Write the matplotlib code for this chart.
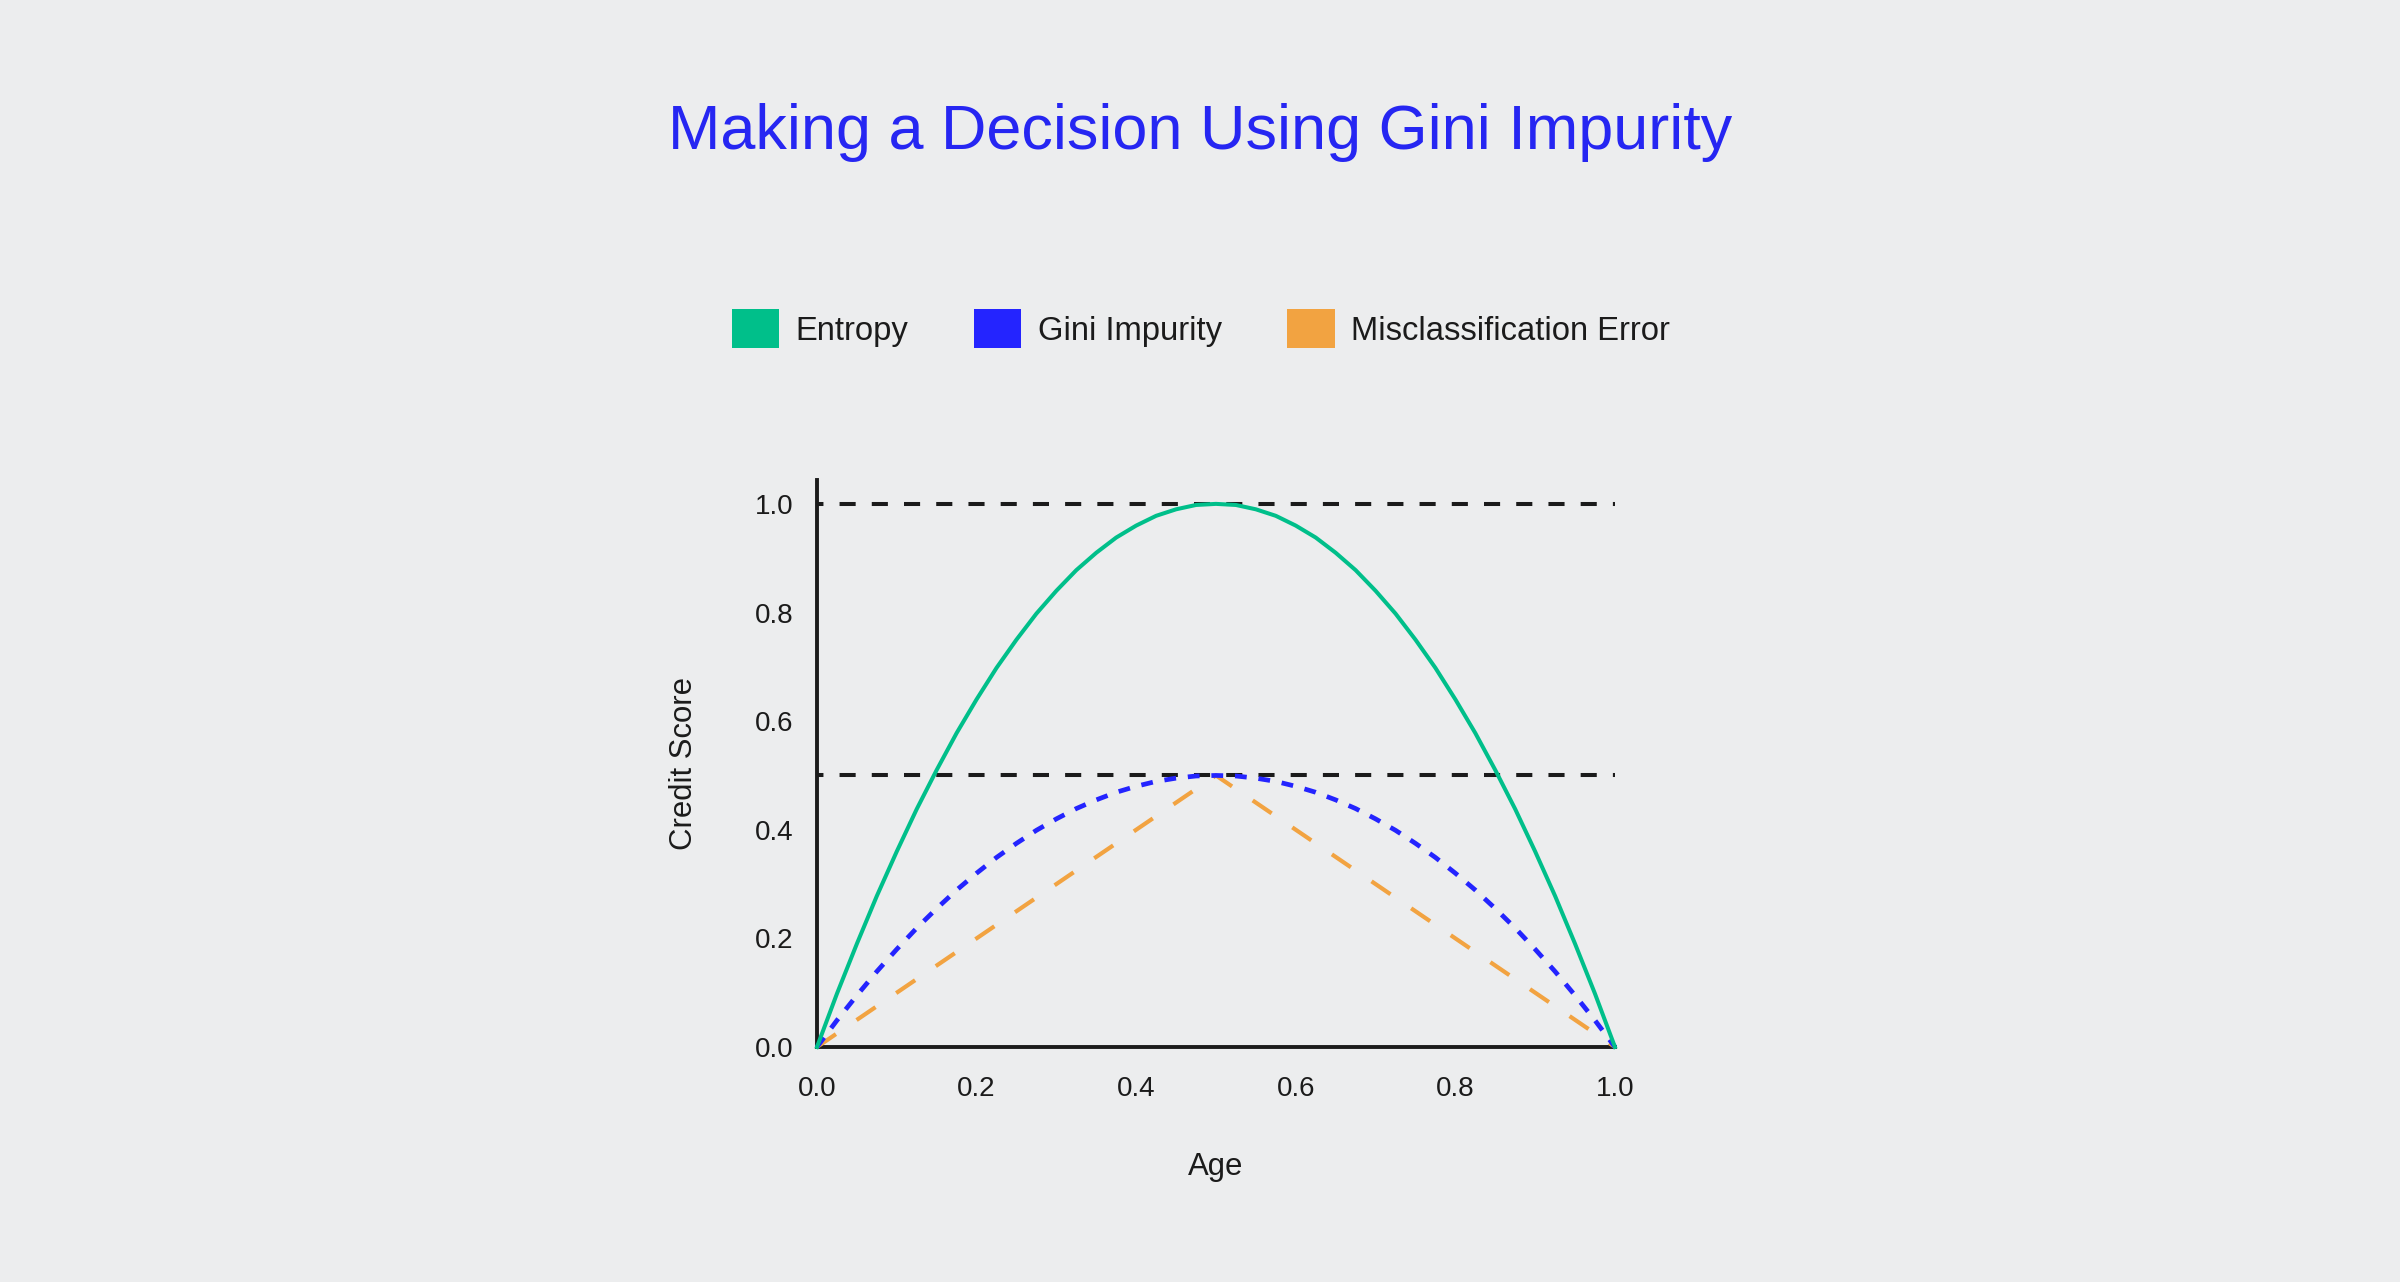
import matplotlib.pyplot as plt
from matplotlib.patches import Patch

BG = '#ECEDEE'
INK = '#1B1B1B'
GREEN = '#00BF8A'
BLUE = '#2424FF'
ORANGE = '#F2A341'
TITLE_BLUE = '#2626F2'

# значения (шаг 0.025)
p = [0.0, 0.025, 0.05, 0.075, 0.1, 0.125, 0.15, 0.175, 0.2, 0.225,
     0.25, 0.275, 0.3, 0.325, 0.35, 0.375, 0.4, 0.425, 0.45, 0.475,
     0.5, 0.525, 0.55, 0.575, 0.6, 0.625, 0.65, 0.675, 0.7, 0.725,
     0.75, 0.775, 0.8, 0.825, 0.85, 0.875, 0.9, 0.925, 0.95, 0.975, 1.0]
entropy = [0.0, 0.098, 0.19, 0.278, 0.36, 0.438, 0.51, 0.578, 0.64, 0.698,
           0.75, 0.798, 0.84, 0.878, 0.91, 0.938, 0.96, 0.978, 0.99, 0.998,
           1.0, 0.998, 0.99, 0.978, 0.96, 0.938, 0.91, 0.878, 0.84, 0.798,
           0.75, 0.698, 0.64, 0.578, 0.51, 0.438, 0.36, 0.278, 0.19, 0.098, 0.0]
gini = [0.0, 0.049, 0.095, 0.139, 0.18, 0.219, 0.255, 0.289, 0.32, 0.349,
        0.375, 0.399, 0.42, 0.439, 0.455, 0.469, 0.48, 0.489, 0.495, 0.499,
        0.5, 0.499, 0.495, 0.489, 0.48, 0.469, 0.455, 0.439, 0.42, 0.399,
        0.375, 0.349, 0.32, 0.289, 0.255, 0.219, 0.18, 0.139, 0.095, 0.049, 0.0]
miscl_p = [0.0, 0.5, 1.0]
miscl = [0.0, 0.5, 0.0]
ref_levels = [1.0, 0.5]
ticks = [0.0, 0.2, 0.4, 0.6, 0.8, 1.0]
labels = ['Entropy', 'Gini Impurity', 'Misclassification Error']

plt.rcParams['font.family'] = ['Liberation Sans', 'DejaVu Sans']

fig = plt.figure(figsize=(12, 6.41), dpi=200, facecolor=BG)
ax = fig.add_axes([0.3404, 0.1833, 0.3325, 0.4423])
ax.set_facecolor(BG)

# пунктирные уровни
for lv in ref_levels:
    ax.plot([0, 1], [lv, lv], color=INK, lw=1.45, ls=(2.4, (4, 4)),
            zorder=1, clip_on=False)

ax.plot(miscl_p, miscl, color=ORANGE, lw=1.5, ls=(0, (5.5, 6)), zorder=3, clip_on=False)
ax.plot(p, gini, color=BLUE, lw=1.7, ls=(0, (2.5, 2.5)), zorder=4, clip_on=False)
ax.plot(p, entropy, color=GREEN, lw=1.45, zorder=5, clip_on=False)

ax.set_xlim(0, 1)
ax.set_ylim(0, 1.044)
ax.set_xticks(ticks)
ax.set_yticks(ticks)
ax.set_xticklabels([f'{t:.1f}' for t in ticks])
ax.set_yticklabels([f'{t:.1f}' for t in ticks])
ax.tick_params(axis='both', length=0, labelsize=10, colors=INK)
ax.tick_params(axis='x', pad=10.5)
ax.tick_params(axis='y', pad=8.6)

for s in ['top', 'right']:
    ax.spines[s].set_visible(False)
for s in ['left', 'bottom']:
    ax.spines[s].set_linewidth(1.4)
    ax.spines[s].set_color(INK)

ax.set_xlabel('Age', fontsize=11.2, color=INK, labelpad=18)
ax.set_ylabel('Credit Score', fontsize=11.2, color=INK, labelpad=20)

fig.text(0.5, 0.884, 'Making a Decision Using Gini Impurity', ha='center',
         va='baseline', fontsize=22.7, color=TITLE_BLUE)

handles = [Patch(facecolor=c, edgecolor='none') for c in [GREEN, BLUE, ORANGE]]
leg = fig.legend(handles, labels, loc='center', bbox_to_anchor=(0.5004, 0.7434),
                 ncol=3, frameon=False, fontsize=11.8, handlelength=1.45,
                 handleheight=1.45, handletextpad=0.5, columnspacing=2.0,
                 borderpad=0)
for t in leg.get_texts():
    t.set_color(INK)

fig.savefig('out.png', dpi=200, facecolor=BG)
